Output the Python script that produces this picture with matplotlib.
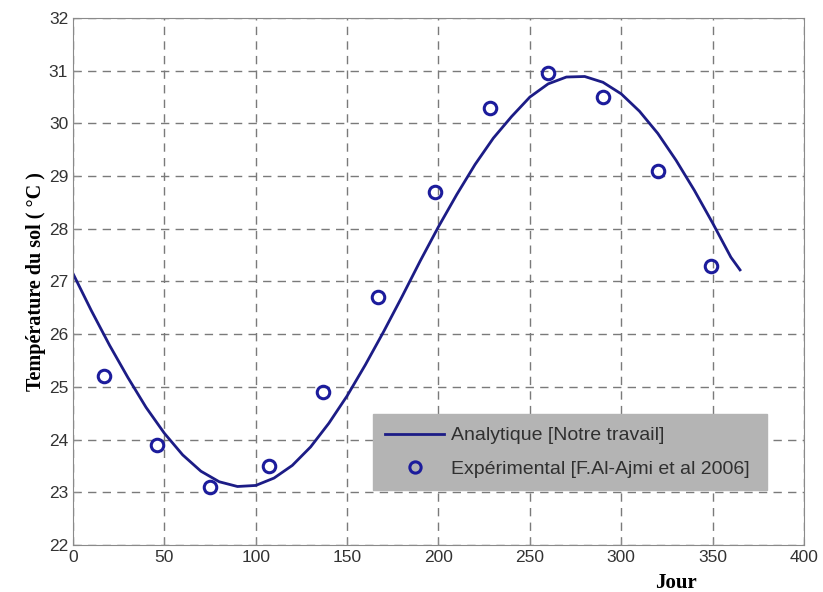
import matplotlib
matplotlib.use('Agg')
import matplotlib.pyplot as plt

# analytical curve
jours_a = [0, 10, 20, 30, 40, 50, 60, 70, 80, 90, 100, 110, 120, 130, 140,
           150, 160, 170, 180, 190, 200, 210, 220, 230, 240, 250, 260, 270,
           280, 290, 300, 310, 320, 330, 340, 350, 360, 365]
temp_a = [27.15, 26.45, 25.79, 25.18, 24.61, 24.12, 23.71, 23.40, 23.20,
          23.11, 23.13, 23.27, 23.51, 23.86, 24.31, 24.83, 25.42, 26.05,
          26.71, 27.39, 28.04, 28.65, 29.22, 29.72, 30.13, 30.50, 30.75,
          30.88, 30.89, 30.78, 30.56, 30.23, 29.81, 29.30, 28.73, 28.11,
          27.46, 27.22]

# experimental points
jours_e = [17, 46, 75, 107, 137, 167, 198, 228, 260, 290, 320, 349]
temp_e = [25.2, 23.9, 23.1, 23.5, 24.9, 26.7, 28.7, 30.3, 30.95, 30.5, 29.1, 27.3]

fig = plt.figure(figsize=(8.23, 5.92), dpi=100)
ax = fig.add_axes([0.0887, 0.0794, 0.8882, 0.8902])

ax.plot(jours_a, temp_a, color='#1c1c86', lw=2.0, solid_joinstyle='round',
        label='Analytique [Notre travail]')
ax.plot(jours_e, temp_e, 'o', ms=9, mfc='none', mec='#1c1c9c', mew=2.2,
        label='Expérimental [F.Al-Ajmi et al 2006]')

ax.set_xlim(0, 400)
ax.set_ylim(22, 32)
ax.set_xticks(range(0, 401, 50))
ax.set_yticks(range(22, 33))
ax.grid(True, ls=(0, (6, 4.5)), color='#7a7a7a', lw=1.0)
for s in ax.spines.values():
    s.set_color('#8a8a8a')
ax.tick_params(direction='in', length=4, colors='#8a8a8a', labelcolor='#333333',
               labelsize=12.5)
for t in ax.get_xticklabels() + ax.get_yticklabels():
    t.set_family('Liberation Sans')

ax.set_ylabel('Température du sol ( °C )', family='Liberation Serif',
              weight='bold', fontsize=14.5, labelpad=2)
ax.text(330, 21.27, 'Jour', family='Liberation Serif', weight='bold',
        fontsize=15, ha='center', va='center')

leg = ax.legend(loc='lower left', bbox_to_anchor=(0.41, 0.104, 0.539, 0.145),
                mode='expand', fancybox=False, framealpha=1, facecolor='#b4b4b4',
                edgecolor='#b4b4b4', prop={'family': 'Liberation Sans', 'size': 14},
                borderaxespad=0, borderpad=0.65, handlelength=3.0,
                handletextpad=0.36, labelspacing=0.8, markerscale=0.9)
for t in leg.get_texts():
    t.set_color('#303030')

fig.savefig('out.png', dpi=100)
